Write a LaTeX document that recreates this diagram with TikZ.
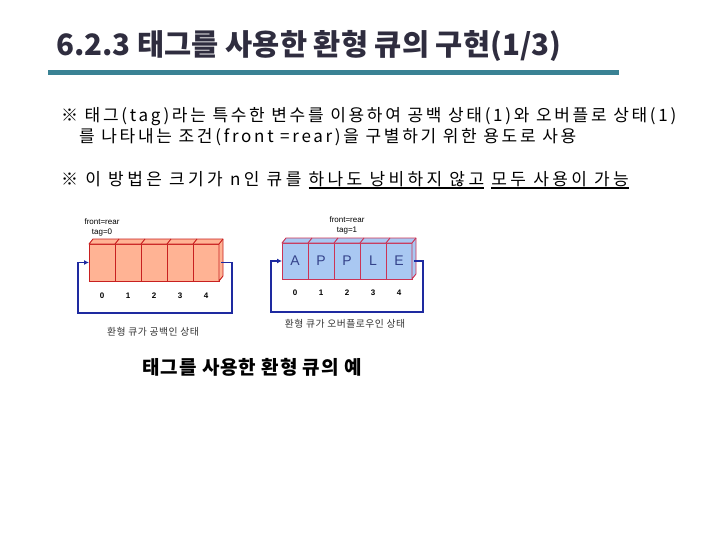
\documentclass[tikz,border=0pt]{standalone}
\usepackage{fontspec}
\setmainfont{Liberation Sans}
\newfontfamily\krfont{Noto Sans CJK KR}
\newfontfamily\krwide[LetterSpace=5]{Noto Sans CJK KR}
\newfontfamily\krbody[LetterSpace=16]{Noto Sans CJK KR}
\newfontfamily\krloose[LetterSpace=20]{Noto Sans CJK KR}
\usetikzlibrary{arrows.meta,positioning,calc}
\definecolor{titlegray}{HTML}{2F2D3F}
\definecolor{rulesteel}{HTML}{3A8294}
\definecolor{emptyfill}{HTML}{FFB394}
\definecolor{emptyedge}{HTML}{C82020}
\definecolor{fullfill}{HTML}{A9C8F2}
\definecolor{fulledge}{HTML}{CC3355}
\definecolor{loopblue}{HTML}{1E2AA0}
\definecolor{lettergray}{HTML}{34428A}
\newcommand{\ulbox}[1]{\setbox0\hbox{#1}\rlap{\rule[-4pt]{\wd0}{1.6pt}}\box0\relax}
\tikzset{
  emptycell/.style = {draw=emptyedge, fill=emptyfill, line width=0.9pt,
                      minimum width=26pt, minimum height=37pt, inner sep=0pt, outer sep=0pt},
  fullcell/.style  = {draw=fulledge, fill=fullfill, line width=0.9pt,
                      minimum width=26pt, minimum height=36pt, inner sep=0pt, outer sep=0pt,
                      text=lettergray, font=\fontsize{14}{16}\selectfont},
  idx/.style       = {font=\bfseries\fontsize{8}{9}\selectfont, inner sep=0pt},
  tagnote/.style   = {font=\fontsize{8}{9}\selectfont, inner sep=0pt},
  subcap/.style    = {font=\krwide\fontsize{9.8}{11}\selectfont, text=black!80, inner sep=0pt},
  bodytext/.style  = {anchor=west, font=\krbody\fontsize{17}{20}\selectfont, inner sep=0pt},
  loopline/.style  = {draw=loopblue, line width=1.5pt, -{Latex[length=5pt,width=5pt]}},
}
\begin{document}
\begin{tikzpicture}[x=1pt,y=-1pt]
\useasboundingbox (0,0) rectangle (720,540);
% heading
\node[anchor=west, inner sep=0pt, text=titlegray,
      font=\krfont\bfseries\fontsize{29.5}{34}\selectfont] (title) at (56,46)
  {6.2.3 태그를 사용한 환형 큐의 구현(1/3)};
\fill[rulesteel] (48,70) rectangle (619,75);
% notes
\node[bodytext] (note1) at (61,117)
  {※ 태그(tag)라는 특수한 변수를 이용하여 공백 상태(1)와 오버플로 상태(1)};
\node[bodytext] (note2) at (79,137.5)
  {를 나타내는 조건(front =rear)을 구별하기 위한 용도로 사용};
\node[bodytext, font=\krloose\fontsize{17}{20}\selectfont] (note3) at (61,180)
  {※ 이 방법은 크기가 n인 큐를 \ulbox{하나도 낭비하지 않고} \ulbox{모두 사용이 가능}};

% empty queue
\foreach \i in {0,...,4}
  \node[emptycell] (c\i) at (102+26*\i,262.5) {};
\draw[emptyedge, fill=emptyfill, line width=0.9pt, line join=round]
  (c0.north west) -- ++(4,-5) -- ($(c4.north east)+(4,-5)$) -- ++(0,37)
  -- (c4.south east) -- (c4.north east) -- cycle;
\foreach \i in {0,...,4}
  \draw[emptyedge, line width=0.9pt] (c\i.north east) -- ++(4,-5);
\node[tagnote] (frontA) at (102,222) {front=rear};
\node[tagnote] (tagA) at (102,233) {tag=0};
\foreach \i in {0,...,4}
  \node[idx] (n\i) at ($(c\i)+(0,33.5)$) {\i};
\coordinate (loopA1) at (232,313);
\coordinate (loopA2) at (78,262.5);
\draw[loopline] ($(c4.east)+(2,0)$) -| (loopA1) -| (loopA2) -- (c0.west);
\node[subcap] (capA) at (153,332) {환형 큐가 공백인 상태};

% full queue
\foreach \ch [count=\i from 0] in {A,P,P,L,E}
  \node[fullcell] (d\i) at (295+26*\i,261) {\ch};
\draw[fulledge, fill=fullfill, line width=0.9pt, line join=round]
  (d0.north west) -- ++(4,-5) -- ($(d4.north east)+(4,-5)$) -- ++(0,36)
  -- (d4.south east) -- (d4.north east) -- cycle;
\foreach \i in {0,...,4}
  \draw[fulledge, line width=0.9pt] (d\i.north east) -- ++(4,-5);
\node[tagnote] (frontB) at (347,220) {front=rear};
\node[tagnote] (tagB) at (347,230.5) {tag=1};
\foreach \i in {0,...,4}
  \node[idx] (m\i) at ($(d\i)+(0,32)$) {\i};
\coordinate (loopB1) at (423,312);
\coordinate (loopB2) at (271,261);
\draw[loopline] ($(d4.east)+(2,0)$) -| (loopB1) -| (loopB2) -- (d0.west);
\node[subcap] (capB) at (345,324) {환형 큐가 오버플로우인 상태};

% figure caption
\node[inner sep=0pt, font=\krwide\bfseries\fontsize{19}{22}\selectfont] (figcap) at (252,367)
  {태그를 사용한 환형 큐의 예};
\end{tikzpicture}
\end{document}
